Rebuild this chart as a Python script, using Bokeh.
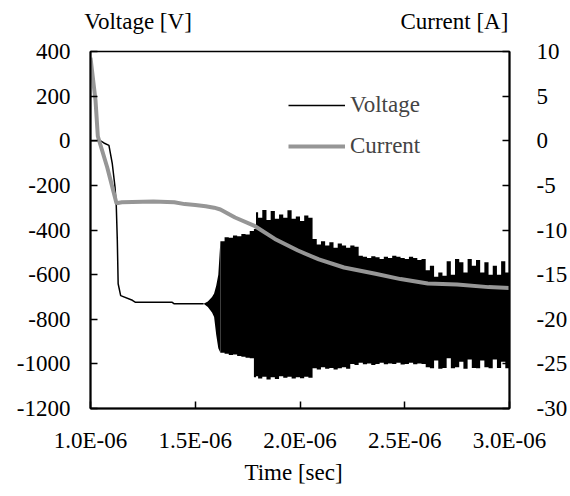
from bokeh.plotting import figure
from bokeh.models import (Range1d, LinearAxis, FixedTicker, CustomJSTickFormatter,
                          Legend, LegendItem)
from bokeh.embed import file_html
from bokeh.resources import INLINE

# ---- data (time in microseconds) ----
volt_t = [1.000, 1.048, 1.064, 1.088, 1.104, 1.117, 1.123, 1.128, 1.132, 1.144,
          1.200, 1.215, 1.390, 1.400, 1.540]
volt_v = [0, 0, -10, -21, -103, -208, -290, -447, -641, -694,
          -715, -724, -724, -731, -731]

band_t = [1.54, 1.56, 1.58, 1.59, 1.60, 1.61, 1.62, 1.64, 1.66, 1.68, 1.70, 1.72, 1.74, 1.76,
          1.78, 1.79, 1.80, 1.82, 1.84, 1.86, 1.88, 1.90, 1.92, 1.94, 1.96, 1.98, 2.00, 2.02,
          2.04, 2.06, 2.08, 2.10, 2.12, 2.14, 2.16, 2.18, 2.20, 2.22, 2.24, 2.26, 2.28, 2.30,
          2.32, 2.34, 2.36, 2.38, 2.40, 2.42, 2.44, 2.46, 2.48, 2.50, 2.52, 2.54, 2.56, 2.58,
          2.60, 2.62, 2.64, 2.66, 2.68, 2.70, 2.72, 2.74, 2.76, 2.78, 2.80, 2.82, 2.84, 2.86,
          2.88, 2.90, 2.92, 2.94, 2.96, 2.98, 3.00]
band_upper = [-731, -720, -700, -685, -650, -600, -450, -432, -435, -425, -428, -418, -420, -405,
              -395, -320, -345, -310, -355, -315, -350, -330, -345, -312, -350, -340, -360, -335,
              -345, -440, -465, -450, -470, -455, -480, -460, -470, -480, -470, -475, -515, -520,
              -525, -518, -522, -530, -520, -525, -515, -520, -525, -530, -520, -525, -535, -530,
              -580, -560, -610, -590, -605, -540, -600, -530, -545, -590, -530, -560, -535, -590,
              -545, -600, -560, -600, -540, -590, -600]
band_lower = [-731, -745, -770, -790, -870, -930, -950, -955, -960, -958, -965, -968, -972, -975,
              -1060, -1055, -1065, -1058, -1070, -1060, -1068, -1055, -1062, -1058, -1066, -1060, -1064, -1058,
              -1062, -1020, -1025, -1015, -1022, -1018, -1025, -1020, -1015, -1022, -1000, -1005, -995, -1002,
              -998, -1005, -1000, -995, -1002, -998, -1000, -995, -1003, -1000, -995, -1002, -998, -1000,
              -1015, -1020, -985, -1022, -1018, -975, -1020, -1015, -990, -1022, -980, -1018, -1020, -985,
              -1015, -1020, -980, -1018, -990, -1020, -1015]

curr_t = [1.000, 1.024, 1.035, 1.080, 1.124, 1.150, 1.200, 1.300, 1.400, 1.450, 1.500, 1.550,
          1.590, 1.620, 1.690, 1.780, 1.880, 1.990, 2.090, 2.210, 2.360, 2.480, 2.610, 2.750,
          2.900, 3.000]
curr_a = [9.3, 4.5, 0.5, -3.0, -7.0, -6.9, -6.85, -6.8, -6.9, -7.1, -7.2, -7.35,
          -7.5, -7.7, -8.6, -9.5, -11.0, -12.3, -13.3, -14.2, -14.9, -15.5, -16.0, -16.1,
          -16.4, -16.5]

x_ticks = [1.0, 1.5, 2.0, 2.5, 3.0]
v_ticks = [400, 200, 0, -200, -400, -600, -800, -1000, -1200]
a_ticks = [10, 5, 0, -5, -10, -15, -20, -25, -30]

v_title = "Voltage [V]"
a_title = "Current [A]"
t_title = "Time [sec]"

FONT = "Liberation Serif"
FS = "23px"
GRAY = "#969696"

p = figure(width=570, height=496, output_backend="svg", toolbar_location=None,
           x_range=Range1d(1.0, 3.0), y_range=Range1d(-1200, 400),
           min_border_left=90, min_border_right=10, min_border_top=51, min_border_bottom=88,
           background_fill_color="white", border_fill_color="white")
p.extra_y_ranges = {"current": Range1d(-30, 10)}
p.xgrid.visible = False
p.ygrid.visible = False
p.outline_line_color = "black"
p.outline_line_width = 1.5

plain = CustomJSTickFormatter(code="return tick.toString();")

def style_axis(ax):
    ax.axis_line_width = 2
    ax.axis_line_color = "black"
    ax.major_tick_in = 7
    ax.major_tick_out = 0
    ax.major_tick_line_width = 1.5
    ax.minor_tick_line_color = None
    ax.major_label_text_font = FONT
    ax.major_label_text_font_size = FS
    ax.major_label_text_color = "black"
    ax.major_label_standoff = 20

def text_axis(ticks, code, standoff, **args):
    ax = LinearAxis(ticker=FixedTicker(ticks=ticks),
                    formatter=CustomJSTickFormatter(args=args, code=code))
    ax.axis_line_color = None
    ax.major_tick_line_color = None
    ax.minor_tick_line_color = None
    ax.major_tick_in = 0
    ax.major_tick_out = 0
    ax.major_label_text_font = FONT
    ax.major_label_text_font_size = FS
    ax.major_label_text_color = "black"
    ax.major_label_standoff = standoff
    return ax

xa = p.xaxis[0]
xa.ticker = FixedTicker(ticks=x_ticks)
xa.formatter = CustomJSTickFormatter(code='return tick.toFixed(1) + "E-06";')
style_axis(xa)
xa.major_label_standoff = 19

ya = p.yaxis[0]
ya.ticker = FixedTicker(ticks=v_ticks)
ya.formatter = plain
style_axis(ya)

ra = LinearAxis(y_range_name="current", ticker=FixedTicker(ticks=a_ticks), formatter=plain)
style_axis(ra)
ra.major_label_standoff = 27
ra.major_label_text_align = "left"
p.add_layout(ra, "right")

# axis titles, drawn as the labels of unlined axes
p.add_layout(text_axis([1.227, 2.737], "return tick < 2 ? a : b;", 18, a=v_title, b=a_title), "above")
p.add_layout(text_axis([1.969], "return t;", 4, t=t_title), "below")

# voltage
vl = p.line(volt_t, volt_v, line_color="black", line_width=1.5)
n_on = 7
p.varea(x=band_t[:n_on], y1=band_lower[:n_on], y2=band_upper[:n_on], fill_color="black")
p.varea_step(x=band_t[n_on - 1:], y1=band_lower[n_on - 1:], y2=band_upper[n_on - 1:],
             step_mode="after", fill_color="black")
# current
cl = p.line(curr_t, curr_a, line_color=GRAY, line_width=4, y_range_name="current")

legend = Legend(items=[LegendItem(label="Voltage", renderers=[vl]),
                       LegendItem(label="Current", renderers=[cl])],
                location=(198, 247), padding=0, margin=0, spacing=11,
                glyph_width=57, glyph_height=30, label_height=30, label_standoff=5,
                label_text_font=FONT, label_text_font_size=FS,
                background_fill_alpha=0, border_line_alpha=0)
p.add_layout(legend, "center")

open("out.html", "w").write(file_html(p, INLINE))
